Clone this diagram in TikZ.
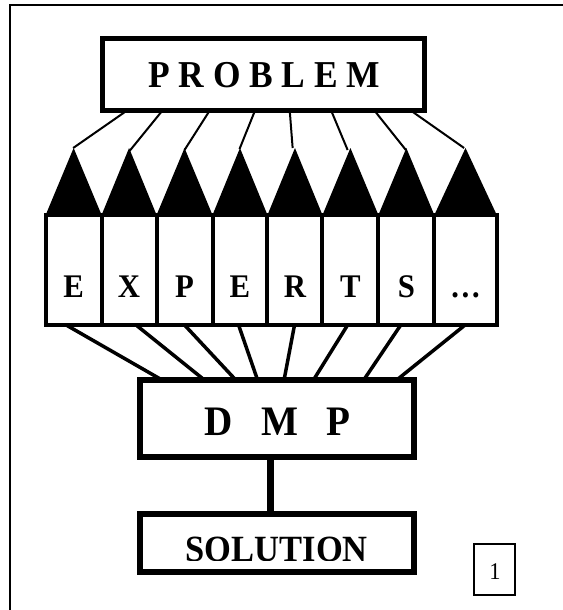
\documentclass[tikz,border=0pt]{standalone}
\usepackage{fontspec}
\setmainfont{Liberation Serif}
\begin{document}
\begin{tikzpicture}[xscale=0.932, x=1pt, y=-1pt,
  every node/.append style={transform shape},
  frameline/.style={line width=2pt},
  bigbox/.style={draw, line width=5.5pt, inner sep=0pt},
  expbox/.style={draw, line width=4pt, inner sep=0pt, minimum height=110pt},
  feeder/.style={line width=2pt},
  fanline/.style={line width=3.5pt},
  txt/.style={anchor=base, inner sep=0pt}]

% canvas
\useasboundingbox (0,0) rectangle (603,610);
\fill[white] (0,0) rectangle (603,610);
\draw[frameline] (604,5.5) -- (11,5.5) -- (11,611);

% problem box
\node[bigbox, minimum width=345.5pt, minimum height=71.5pt] (problem) at (282.5,74.5) {};
\node[txt, font=\fontsize{38}{38}\selectfont\bfseries] (problemtext) at (283.5,88) {P R O B L E M};

% expert boxes with their triangles
\foreach \l/\r/\t [count=\i] in {49/109/E, 109/168/X, 168/228/P, 228/287/E, 287/346/R, 346/406/T, 406/466/S, 466/533/…}{
  \pgfmathsetmacro\w{\r-\l}
  \pgfmathsetmacro\c{(\r+\l)/2}
  \coordinate (apex\i) at (\c,148);
  \fill (\l,215) -- (apex\i) -- (\r,215) -- cycle;
  \node[expbox, minimum width=\w pt] (exp\i) at (\c,270) {};
  \node[txt, font=\fontsize{33}{33}\selectfont\bfseries] (exptext\i) at (\c,297) {\t};
}

% feeders from the problem box to the triangle tips
\foreach \a/\b/\h [count=\i] in {134/78.5/148, 173/139/151, 224/198/150, 273/257/149, 311/314/148, 356/373/150, 403/435.5/150, 443/498/148}{
  \coordinate (pb\i) at (\a,112);
  \coordinate (tip\i) at (\b,\h);
  \draw[feeder] (pb\i) -- (tip\i);
}

% decision making process box
\node[bigbox, minimum width=294pt, minimum height=77pt] (dmp) at (297,418.5) {};
\node[txt, anchor=base west, font=\fontsize{42}{42}\selectfont\bfseries] (dmptext) at (219,435) {D\hspace{31pt}M\hspace{30pt}P};

% lines from the expert boxes into the dmp box
\foreach \a/\b [count=\i] in {71/172, 146/218, 198/252, 256/276, 316/305, 373/337, 430/391, 499/427}{
  \coordinate (eb\i) at (\a,325);
  \coordinate (dt\i) at (\b,379);
  \draw[fanline] (eb\i) -- (dt\i);
}

% solution box
\node[bigbox, line width=6pt, minimum width=294pt, minimum height=58pt] (solution) at (297,543) {};
\draw[line width=7pt] ([xshift=-6.5pt]dmp.south) -- ([xshift=-6.5pt]solution.north);
\begin{scope}
  \clip (150,514) rectangle (444,560);
  \node[txt, font=\fontsize{37}{37}\selectfont\bfseries] (soltext) at (297,561.5) {SOLUTION};
\end{scope}

% page number
\node[draw, line width=2pt, minimum width=44pt, minimum height=51pt, inner sep=0pt] (pagebox) at (531,569.5) {};
\node[txt, font=\fontsize{24}{24}\selectfont] (pagenum) at (531,579) {1};
\end{tikzpicture}
\end{document}
